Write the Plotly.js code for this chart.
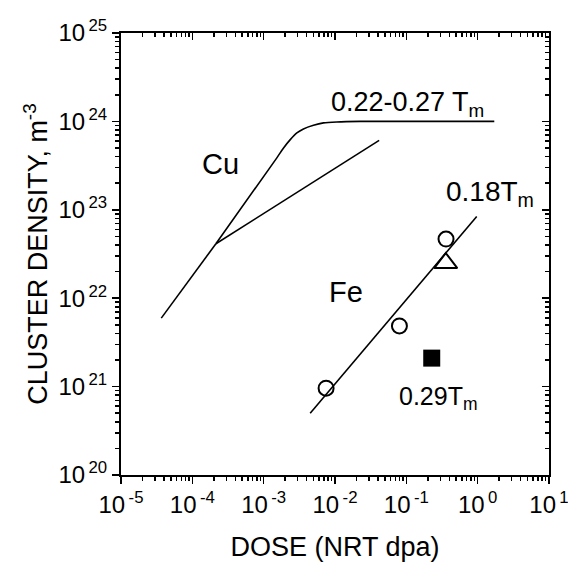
<!DOCTYPE html>
<html>
<head>
<meta charset="utf-8">
<script src="https://cdn.plot.ly/plotly-3.0.1.min.js"></script>
<style>
  html, body { margin: 0; padding: 0; background: #fff; }
  #chart { width: 568px; height: 565px; }
</style>
</head>
<body>
<div id="chart"></div>
<script>
// Cu: low-dose segment up to the branch point
const cuLowDose = [3.67e-5, 2.14e-4];
const cuLowDensity = [5.95e21, 4.13e22];
// Cu: 0.22-0.27 Tm saturating curve
const cuHighDose = [2.14e-4, 1.53e-3, 1.90e-3, 2.36e-3, 2.92e-3, 3.61e-3, 4.99e-3, 6.89e-3, 1.06e-2, 2.25e-2, 1.71];
const cuHighDensity = [4.13e22, 3.87e23, 5.01e23, 6.22e23, 7.41e23, 8.22e23, 9.04e23, 9.62e23, 9.86e23, 1.0e24, 1.0e24];
// Cu: straight branch
const cuBranchDose = [2.14e-4, 0.0416];
const cuBranchDensity = [4.13e22, 6.1e23];
// Fe: 0.18 Tm fit line
const feLineDose = [4.49e-3, 0.97];
const feLineDensity = [5.0e20, 8.4e22];
// Fe data points
const feCircleDose = [7.5e-3, 0.080, 0.36];
const feCircleDensity = [9.6e20, 4.86e21, 4.67e22];
const feTriangleDose = [0.357];
const feTriangleDensity = [2.5e22];
const feSquareDose = [0.227];
const feSquareDensity = [2.1e21];
// Axis ticks
const xTickVals = [1e-5, 1e-4, 1e-3, 1e-2, 1e-1, 1e0, 1e1];
const xTickText = ['10<sup>\u2009-5</sup>', '10<sup>\u2009-4</sup>', '10<sup>\u2009-3</sup>', '10<sup>\u2009-2</sup>', '10<sup>\u2009-1</sup>', '10<sup>\u20090</sup>', '10<sup>\u20091</sup>'];
const yTickVals = [1e20, 1e21, 1e22, 1e23, 1e24, 1e25];
const yTickText = ['10<sup>\u200920</sup>', '10<sup>\u200921</sup>', '10<sup>\u200922</sup>', '10<sup>\u200923</sup>', '10<sup>\u200924</sup>', '10<sup>\u200925</sup>'];

const FONT = 'Liberation Sans, Arial, Helvetica, sans-serif';
const lineStyle = {color: '#000', width: 1.6};

const traces = [
  {x: cuLowDose, y: cuLowDensity, mode: 'lines', line: lineStyle, hoverinfo: 'skip'},
  {x: cuHighDose, y: cuHighDensity, mode: 'lines', line: Object.assign({shape: 'spline', smoothing: 0.6}, lineStyle), hoverinfo: 'skip'},
  {x: cuBranchDose, y: cuBranchDensity, mode: 'lines', line: lineStyle, hoverinfo: 'skip'},
  {x: feLineDose, y: feLineDensity, mode: 'lines', line: lineStyle, hoverinfo: 'skip'},
  {x: feCircleDose, y: feCircleDensity, mode: 'markers',
   marker: {symbol: 'circle-open', size: 15, color: '#000', line: {width: 2, color: '#000'}}},
  {x: feTriangleDose, y: feTriangleDensity, mode: 'markers',
   marker: {symbol: 'triangle-up-open', size: 20, color: '#000', line: {width: 2, color: '#000'}}},
  {x: feSquareDose, y: feSquareDensity, mode: 'markers',
   marker: {symbol: 'square', size: 17, color: '#000', line: {width: 0}}},
  {x: [], y: [], xaxis: 'x2', yaxis: 'y2', mode: 'markers', hoverinfo: 'skip'}
];

const axisCommon = {
  type: 'log', showgrid: false, zeroline: false, showline: true, linecolor: '#000', linewidth: 2,
  ticklen: 7, tickwidth: 1.5, tickcolor: '#000', tickmode: 'array',
  tickfont: {family: FONT, size: 24, color: '#000'}
};

const layout = {
  width: 568, height: 565,
  margin: {l: 121, r: 19, t: 33, b: 90},
  paper_bgcolor: '#fff', plot_bgcolor: '#fff',
  showlegend: false,
  font: {family: FONT, color: '#000'},
  xaxis: Object.assign({}, axisCommon, {
    range: [-5, 1], tickvals: xTickVals, ticktext: xTickText, ticks: 'outside',
    ticklabeloverflow: 'allow',
    minor: {ticks: 'outside', ticklen: 4, tickwidth: 1.5, tickcolor: '#000', dtick: 'D1', tickmode: 'linear', showgrid: false},
    title: {text: 'DOSE (NRT dpa)', font: {family: FONT, size: 27, color: '#000'}, standoff: 20}
  }),
  yaxis: Object.assign({}, axisCommon, {
    range: [20, 25], tickvals: yTickVals, ticktext: yTickText, ticks: 'outside',
    ticklabeloverflow: 'allow',
    minor: {ticks: 'outside', ticklen: 4, tickwidth: 1.5, tickcolor: '#000', dtick: 'D1', tickmode: 'linear', showgrid: false},
    title: {text: 'CLUSTER DENSITY, m<sup>-3</sup>', font: {family: FONT, size: 27, color: '#000'}, standoff: 3}
  }),
  xaxis2: Object.assign({}, axisCommon, {
    overlaying: 'x', side: 'top', range: [-5, 1], tickvals: xTickVals, ticktext: xTickText,
    ticks: 'inside', showticklabels: false,
    minor: {ticks: 'inside', ticklen: 4, tickwidth: 1.5, tickcolor: '#000', dtick: 'D1', tickmode: 'linear', showgrid: false}
  }),
  yaxis2: Object.assign({}, axisCommon, {
    overlaying: 'y', side: 'right', range: [20, 25], tickvals: yTickVals, ticktext: yTickText,
    ticks: 'inside', showticklabels: false,
    minor: {ticks: 'inside', ticklen: 4, tickwidth: 1.5, tickcolor: '#000', dtick: 'D1', tickmode: 'linear', showgrid: false}
  }),
  annotations: [
    {text: 'Cu', x: -3.609, y: 23.522, xref: 'x', yref: 'y', showarrow: false,
     xanchor: 'center', yanchor: 'middle', font: {family: FONT, size: 29, color: '#000'}},
    {text: 'Fe', x: -1.844, y: 22.072, xref: 'x', yref: 'y', showarrow: false,
     xanchor: 'center', yanchor: 'middle', font: {family: FONT, size: 29, color: '#000'}},
    {text: '0.22-0.27 T<sub>m</sub>', x: -2.09, y: 24.2, xref: 'x', yref: 'y', showarrow: false,
     xanchor: 'left', yanchor: 'middle', font: {family: FONT, size: 27, color: '#000'}},
    {text: '0.18T<sub>m</sub>', x: -0.47, y: 23.18, xref: 'x', yref: 'y', showarrow: false,
     xanchor: 'left', yanchor: 'middle', font: {family: FONT, size: 28, color: '#000'}},
    {text: '0.29T<sub>m</sub>', x: -1.135, y: 20.875, xref: 'x', yref: 'y', showarrow: false,
     xanchor: 'left', yanchor: 'middle', font: {family: FONT, size: 25, color: '#000'}}
  ]
};

Plotly.newPlot('chart', traces, layout, {staticPlot: true, displayModeBar: false});
</script>
</body>
</html>
